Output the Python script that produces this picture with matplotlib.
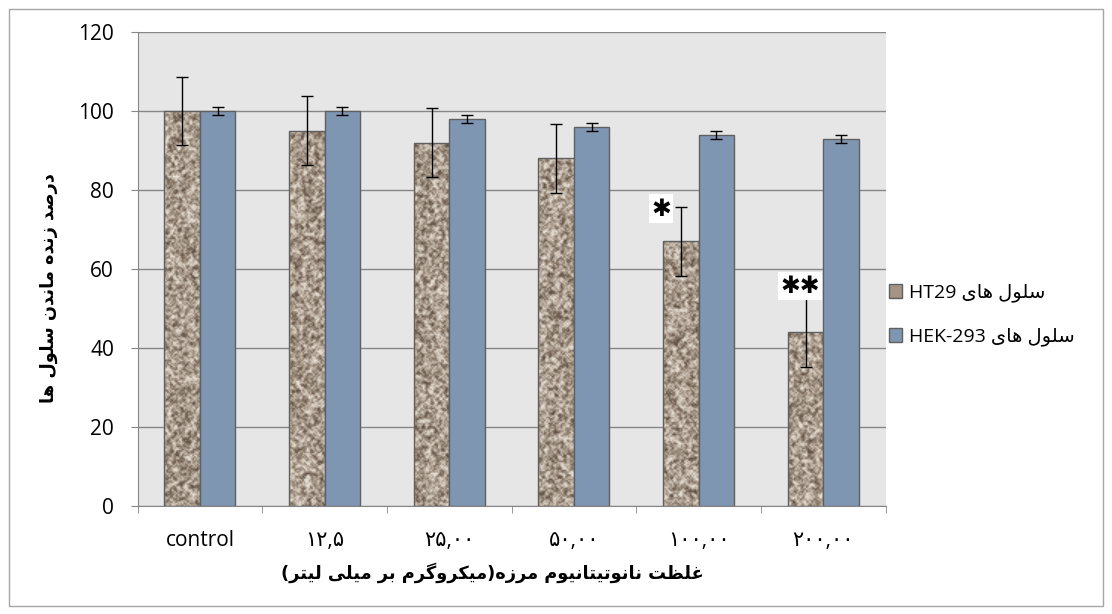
import matplotlib
matplotlib.use("Agg")
import matplotlib.pyplot as plt
import numpy as np
from matplotlib.patches import Patch, Rectangle
from matplotlib.colors import LinearSegmentedColormap
import re

plt.rcParams['font.family'] = ['Open Sans', 'DejaVu Sans']

# data
groups = ["control", "۱۲,۵", "۲۵,۰۰", "۵۰,۰۰", "۱۰۰,۰۰", "۲۰۰,۰۰"]
ht29 = [100, 95, 92, 88, 67, 44]
ht29_err = [8.7, 8.7, 8.7, 8.7, 8.8, 8.7]
hek = [100, 100, 98, 96, 94, 93]
hek_err = [1.0, 1.0, 1.0, 1.0, 1.0, 1.0]
stars = {4: "✱", 5: "✱✱"}

ylabel_txt = "درصد زنده ماندن سلول ها"
xlabel_txt = "غلظت نانوتیتانیوم مرزه(میکروگرم بر میلی لیتر)"
leg_ht29 = "سلول های HT29"
leg_hek = "سلول های HEK-293"

# arabic letter forms: isolated, final, initial, medial
FORMS = {
    'ا': ('\uFE8D', '\uFE8E', None, None),
    'ب': ('\uFE8F', '\uFE90', '\uFE91', '\uFE92'),
    'ت': ('\uFE95', '\uFE96', '\uFE97', '\uFE98'),
    'د': ('\uFEA9', '\uFEAA', None, None),
    'ر': ('\uFEAD', '\uFEAE', None, None),
    'ز': ('\uFEAF', '\uFEB0', None, None),
    'س': ('\uFEB1', '\uFEB2', '\uFEB3', '\uFEB4'),
    'ص': ('\uFEB9', '\uFEBA', '\uFEBB', '\uFEBC'),
    'ظ': ('\uFEC5', '\uFEC6', '\uFEC7', '\uFEC8'),
    'غ': ('\uFECD', '\uFECE', '\uFECF', '\uFED0'),
    'ل': ('\uFEDD', '\uFEDE', '\uFEDF', '\uFEE0'),
    'م': ('\uFEE1', '\uFEE2', '\uFEE3', '\uFEE4'),
    'ن': ('\uFEE5', '\uFEE6', '\uFEE7', '\uFEE8'),
    'ه': ('\uFEE9', '\uFEEA', '\uFEEB', '\uFEEC'),
    'و': ('\uFEED', '\uFEEE', None, None),
    'ی': ('\uFBFC', '\uFBFD', '\uFBFE', '\uFBFF'),
    'ک': ('\uFB8E', '\uFB8F', '\uFB90', '\uFB91'),
    'گ': ('\uFB92', '\uFB93', '\uFB94', '\uFB95'),
}


def shape(text):
    out = []
    for i, c in enumerate(text):
        if c not in FORMS:
            out.append(c)
            continue
        prev = text[i - 1] if i > 0 else ''
        nxt = text[i + 1] if i + 1 < len(text) else ''
        jp = prev in FORMS and FORMS[prev][2] is not None
        jn = FORMS[c][2] is not None and nxt in FORMS
        iso, fin, ini, med = FORMS[c]
        if jp and jn:
            out.append(med)
        elif jp:
            out.append(fin)
        elif jn:
            out.append(ini)
        else:
            out.append(iso)
    return ''.join(out)


def rtl(text):
    s = shape(text)
    parts = re.split(r'([A-Za-z0-9\-]+)', s)
    res = []
    for p in reversed(parts):
        if re.fullmatch(r'[A-Za-z0-9\-]+', p):
            res.append(p)
        else:
            p = p[::-1].translate(str.maketrans('()', ')('))
            res.append(p)
    return ''.join(res)


def granite(h, w, seed):
    yy, xx = np.mgrid[0:h, 0:w].astype(float)
    n = np.sin(xx * 12.9898 + yy * 78.233 + seed * 37.719) * 43758.5453
    n = n - np.floor(n)
    sm = n.copy()
    for dy in (-1, 0, 1):
        for dx in (-1, 0, 1):
            sm += np.roll(np.roll(n, dy, 0), dx, 1)
    sm /= 10.0
    sm = (sm - sm.mean()) / sm.std()
    return 0.5 * n + 0.5 * np.clip(sm * 0.25 + 0.5, 0, 1)


tex_cmap = LinearSegmentedColormap.from_list(
    "granite", ["#5e4e42", "#877868", "#ab9d8e", "#c9beb0", "#ebe4da"])

fig = plt.figure(figsize=(11.12, 6.14), dpi=100)
fig.patches.append(Rectangle((9 / 1112, 8 / 614), 1094 / 1112, 597 / 614,
                             transform=fig.transFigure, fill=False,
                             edgecolor='#a6a6a6', linewidth=1))
ax = fig.add_axes([137.6 / 1112, 1 - 506 / 614, 748 / 1112, 474 / 614])
ax.set_facecolor('#e6e6e6')

x = np.arange(len(groups)) + 0.5
w = 0.285
bars1 = ax.bar(x - w / 2, ht29, w, facecolor='none', edgecolor='#5f5f5f',
               linewidth=1, zorder=3)
bars2 = ax.bar(x + w / 2, hek, w, color='#7f96b3', edgecolor='#5f5f5f',
               linewidth=1, zorder=3)

# stone texture inside the HT29 bars
for i, b in enumerate(bars1):
    h = b.get_height()
    tex = granite(int(h * 2.6) + 2, 24, i + 1)
    im = ax.imshow(tex, cmap=tex_cmap, vmin=0, vmax=1, aspect='auto',
                   extent=[b.get_x(), b.get_x() + w, 0, h], zorder=2,
                   interpolation='bilinear')
    im.set_clip_path(b)

ax.errorbar(x - w / 2, ht29, yerr=ht29_err, fmt='none', ecolor='black',
            elinewidth=1, capsize=4.5, capthick=1, zorder=4)
ax.errorbar(x + w / 2, hek, yerr=hek_err, fmt='none', ecolor='black',
            elinewidth=1, capsize=4.5, capthick=1, zorder=4)

# significance marks, offset from the top of the error bar
star_off = {4: (-0.16, -0.5), 5: (-0.045, 3.0)}
for i, s in stars.items():
    dx, dy = star_off[i]
    top = ht29[i] + ht29_err[i]
    ax.text(x[i] - w / 2 + dx, top + dy, s, ha='center', va='center',
            fontsize=17, family='DejaVu Sans',
            bbox=dict(facecolor='white', edgecolor='none', pad=1.5), zorder=5)

ax.set_xlim(0, 6)
ax.set_ylim(0, 120)
ax.set_yticks(np.arange(0, 121, 20))
ax.yaxis.grid(True, color='#868686', linewidth=1)
ax.set_axisbelow(True)
ax.set_xticks(x)
ax.set_xticklabels(groups, fontsize=15)
ax.set_xticks(np.arange(0, 7), minor=True)
ax.tick_params(axis='x', which='major', length=0, pad=17)
ax.tick_params(axis='x', which='minor', length=5, color='#868686')
ax.tick_params(axis='y', length=5, color='#868686', labelsize=15, pad=12)
for sp in ('top', 'right'):
    ax.spines[sp].set_visible(False)
for sp in ('left', 'bottom'):
    ax.spines[sp].set_color('#868686')

ax.set_ylabel(rtl(ylabel_txt), family='DejaVu Sans', fontweight='bold',
              fontsize=12.8)
ax.yaxis.set_label_coords(-0.106, 0.46)
ax.set_xlabel(rtl(xlabel_txt), family='DejaVu Sans', fontweight='bold',
              fontsize=12.8)
ax.xaxis.set_label_coords(0.474, -0.118)

handles = [Patch(facecolor='#a39484', edgecolor='#5f5f5f'),
           Patch(facecolor='#7f96b3', edgecolor='#5f5f5f')]
fig.legend(handles, [rtl(leg_ht29), rtl(leg_hek)], loc='center left',
           bbox_to_anchor=(871 / 1112, 1 - 315 / 614), frameon=False,
           fontsize=14, handlelength=0.7, handleheight=0.7,
           handletextpad=0.35, labelspacing=1.3)

fig.savefig("out.png", dpi=100)
